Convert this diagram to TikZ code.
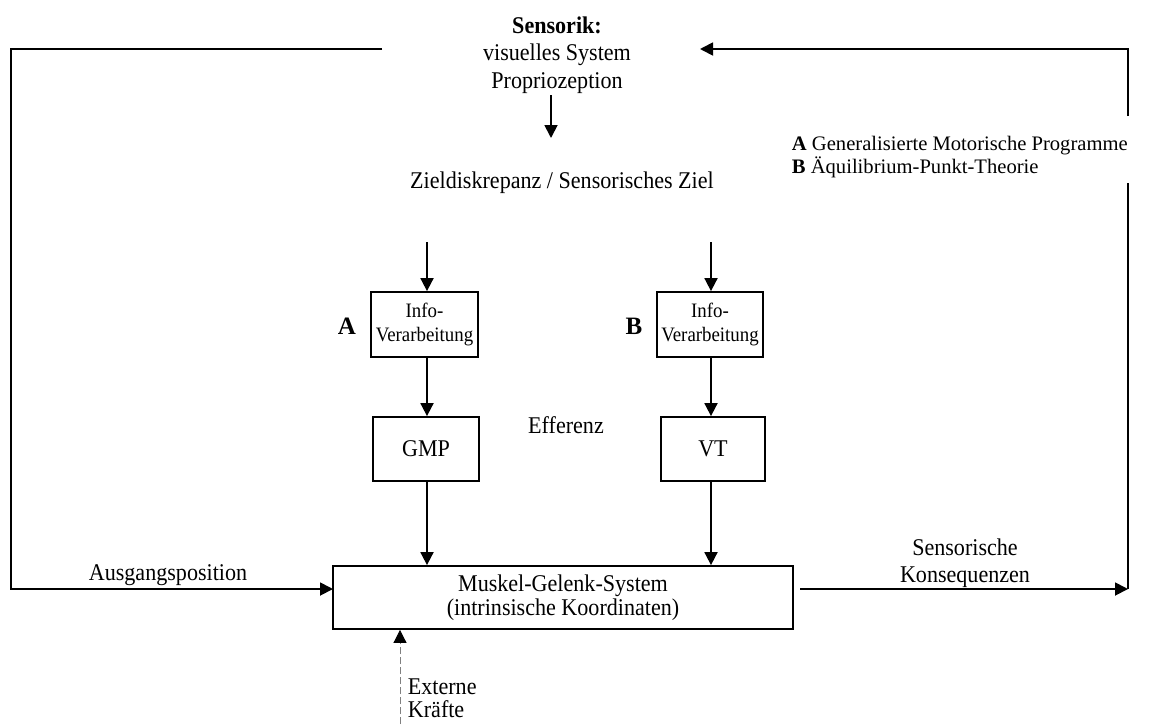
\documentclass[tikz,border=0pt]{standalone}
\usepackage{fontspec}
\setmainfont{Liberation Serif}
\newfontfamily\cond{Liberation Serif}[FakeStretch=0.92]
\usetikzlibrary{arrows.meta,positioning}
\begin{document}
\begin{tikzpicture}[x=1pt,y=-1pt,
  line width=1.8pt,
  arr/.style={-{Triangle[length=13pt,width=13pt]}},
  box/.style={draw,line width=1.8pt,inner sep=0pt,align=center},
  txt/.style={font=\cond\fontsize{24}{27.5}\selectfont,align=center,inner sep=0pt},
  small/.style={font=\cond\fontsize{20.5}{24}\selectfont},
  legend/.style={font=\fontsize{20.6}{23}\selectfont,align=left,inner sep=0pt,anchor=west}]
\useasboundingbox (0,0) rectangle (1164,724);

% sensing and target
\node[txt] (sens) at (557,55) {\textbf{Sensorik:}\\visuelles System\\Propriozeption};
\node[txt] (ziel) at (562,183) {Zieldiskrepanz / Sensorisches Ziel};
\coordinate (sensOut) at (551,95);
\draw[arr] (sensOut) -- (551,138);

% processing boxes
\node[box,small,minimum width=107pt,minimum height=65pt] (infoA) at (424.5,324.5) {Info-\\Verarbeitung};
\node[box,small,minimum width=106pt,minimum height=65pt] (infoB) at (710,324.5) {Info-\\Verarbeitung};
\node[box,txt,minimum width=106pt,minimum height=64pt] (gmp) at (426,449) {GMP};
\node[box,txt,minimum width=104pt,minimum height=64pt] (vt) at (713,449) {VT};
\node[font=\bfseries\fontsize{25}{28}\selectfont] (labA) at (347,326) {A};
\node[font=\bfseries\fontsize{25}{28}\selectfont] (labB) at (634,326) {B};
\node[txt] (eff) at (566,425) {Efferenz};

% muscle-joint system
\node[box,txt,font=\cond\fontsize{24}{24.5}\selectfont,minimum width=460pt,minimum height=63pt] (mgs) at (563,597.5) {Muskel-Gelenk-System\\(intrinsische Koordinaten)};

\coordinate (topA) at (427,242);
\coordinate (topB) at (711,242);
\draw[arr] (topA) -- (infoA.north -| topA);
\draw[arr] (topB) -- (infoB.north -| topB);
\draw[arr] (infoA.south -| topA) -- (gmp.north -| topA);
\draw[arr] (infoB.south -| topB) -- (vt.north -| topB);
\draw[arr] (gmp.south -| topA) -- (mgs.north -| topA);
\draw[arr] (vt.south -| topB) -- (mgs.north -| topB);

% feedback loops
\coordinate (loopL) at (382,49);
\coordinate (inL) at (333,589);
\coordinate (outR) at (800,589);
\coordinate (cornerR) at (1128,589);
\coordinate (gapLow) at (1128,183);
\coordinate (gapHigh) at (1128,116);
\coordinate (inTop) at (700,49);
\draw[arr] (loopL) -- (11,49) |- (inL);
\draw[arr] (outR) -- (cornerR);
\draw (cornerR) -- (gapLow);
\draw[arr] (gapHigh) |- (inTop);

\node[txt] (ausg) at (168,575) {Ausgangsposition};
\node[txt] (konseq) at (965,563) {Sensorische\\Konsequenzen};

% legend
\node[legend] (leg) at (791,157) {\textbf{A} Generalisierte Motorische Programme\\\textbf{B} Äquilibrium-Punkt-Theorie};

% external forces
\coordinate (extBot) at (400,724);
\draw[draw=gray,line width=0.8pt,dash pattern=on 7pt off 3pt,-{Triangle[length=13pt,width=13pt,color=black]}] (extBot) -- (mgs.south -| extBot);
\node[txt,font=\cond\fontsize{24}{23}\selectfont,align=left,anchor=west] (ext) at (407,698) {Externe\\Kräfte};
\end{tikzpicture}
\end{document}
